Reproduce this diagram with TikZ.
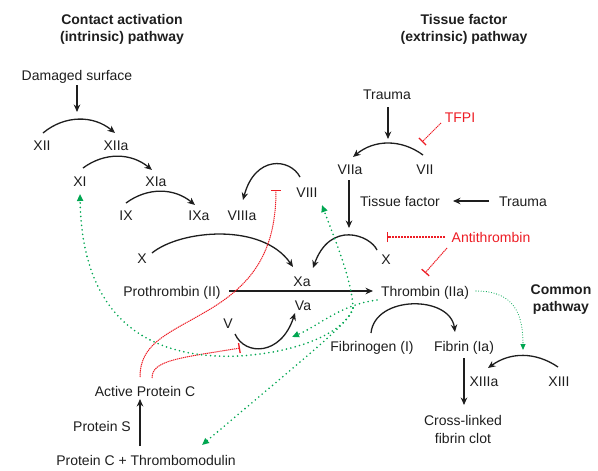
\documentclass[tikz,border=0pt]{standalone}
\usepackage{fontspec}
\setmainfont{Liberation Sans}
\usetikzlibrary{arrows.meta}
\definecolor{ired}{RGB}{237,28,36}
\definecolor{agreen}{RGB}{0,166,81}
\definecolor{ink}{RGB}{30,30,30}
\begin{document}
\begin{tikzpicture}[x=1pt,y=-1pt,
  lbl/.style={font=\fontsize{14}{16}\selectfont, text=ink, inner sep=1pt, text height=10pt, text depth=0pt},
  lbltwo/.style={font=\fontsize{14}{18}\selectfont, text=ink, align=center, inner sep=0pt},
  ttl/.style={font=\fontsize{14}{17}\selectfont\bfseries, text=ink, align=center, inner sep=0pt},
  redlbl/.style={lbl, text=ired},
  arr/.style={ink, line width=1.3pt, -{Stealth[length=7.5pt,width=6.5pt]}},
  inh/.style={ired, line width=1pt, dash pattern=on 1.3pt off 0.7pt, -{Bar[width=10pt,line width=1.3pt]}},
  act/.style={agreen, line width=1.8pt, line cap=round, dash pattern=on 0pt off 4.5pt, -{Triangle[length=7pt,width=6pt]}},
  actfine/.style={agreen, line width=1.1pt, line cap=round, dash pattern=on 0pt off 2.6pt, -{Triangle[length=6pt,width=5pt]}},
]
\useasboundingbox (0,0) rectangle (598,471);

% titles
\node[ttl] (t1) at (122,29) {Contact activation\\(intrinsic) pathway};
\node[ttl] (t2) at (464,29) {Tissue factor\\(extrinsic) pathway};
\node[ttl] (t3) at (561,300) {Common\\pathway};

% intrinsic
\node[lbl] (dmg) at (77,75) {Damaged surface};
\node[lbl] (xii) at (42,145) {XII};
\node[lbl] (xiia) at (116,145) {XIIa};
\node[lbl] (xi) at (80,181) {XI};
\node[lbl] (xia) at (156,181) {XIa};
\node[lbl] (ix) at (126,215) {IX};
\node[lbl] (ixa) at (199,215) {IXa};
\node[lbl] (viiia) at (242,215) {VIIIa};
\node[lbl] (viii) at (307,192) {VIII};
\node[lbl] (xone) at (142,258) {X};
\node[lbl] (xa) at (302,281) {Xa};
\node[lbl] (va) at (303,305) {Va};
\node[lbl] (v) at (228,323) {V};
\node[lbl] (pro) at (172,291) {Prothrombin (II)};
\node[lbl] (thr) at (425,291) {Thrombin (IIa)};

% extrinsic
\node[lbl] (trone) at (387,94) {Trauma};
\node[lbl] (vii) at (425,169) {VII};
\node[lbl] (viia) at (350,169) {VIIa};
\node[redlbl] (tfpi) at (460,117) {TFPI};
\node[lbl] (tf) at (400,201) {Tissue factor};
\node[lbl] (trtwo) at (523,201) {Trauma};
\node[lbl] (xtwo) at (386,259) {X};
\node[redlbl] (anti) at (491,237) {Antithrombin};

% common
\node[lbl] (fgn) at (372,346) {Fibrinogen (I)};
\node[lbl] (fib) at (464,346) {Fibrin (Ia)};
\node[lbl] (xiiia) at (484,381) {XIIIa};
\node[lbl] (xiii) at (559,381) {XIII};
\node[lbltwo] (clot) at (463,429) {Cross-linked\\fibrin clot};

% protein C
\node[lbl] (apc) at (145,391) {Active Protein C};
\node[lbl] (ps) at (102,426) {Protein S};
\node[lbl] (pct) at (146,460) {Protein C + Thrombomodulin};

% free ends
\coordinate (cdmg) at (77,112);
\coordinate (ctr) at (388,139);
\coordinate (cviia) at (349,228);
\coordinate (ctfpi) at (422,142);
\coordinate (cantia) at (387,237);
\coordinate (cantib) at (425,273);
\coordinate (capca) at (276,190);
\coordinate (capcb) at (240,348);
\coordinate (J) at (353,308);

% black arrows
\draw[arr] ([shift={(0,10)}]dmg.center) -- (cdmg);
\draw[arr] ([shift={(1,-12)}]xii.center) to[bend left=40] ([shift={(-1,-12)}]xiia.center);
\draw[arr] ([shift={(3,-13)}]xi.center) to[bend left=38] ([shift={(-4,-11)}]xia.center);
\draw[arr] ([shift={(0,-12)}]ix.center) to[bend left=38] ([shift={(-4,-10)}]ixa.center);
\draw[arr] ([shift={(-7,-15)}]viii.center) .. controls (290,158) and (255,155) .. ([shift={(1,-15)}]viiia.center);
\draw[arr] ([shift={(-9,-9)}]xtwo.center) .. controls (370,235) and (330,220) .. ([shift={(11,-13)}]xa.center);
\draw[arr] ([shift={(10,-5)}]xone.center) .. controls (180,230) and (262,222) .. ([shift={(-9,-14)}]xa.center);
\draw[arr] ([shift={(7,11)}]v.center) .. controls (245,356) and (281,356) .. ([shift={(-8,8)}]va.center);
\draw[arr] ([shift={(57,0)}]pro.center) -- ([shift={(-52,0)}]thr.center);
\draw[arr] ([shift={(1,13)}]trone.center) -- (ctr);
\draw[arr] ([shift={(-2,-14)}]vii.center) to[bend right=38] ([shift={(3,-12)}]viia.center);
\draw[arr] ([shift={(-34,0)}]trtwo.center) -- ([shift={(53,0)}]tf.center);
\draw[arr] ([shift={(-1,11)}]viia.center) -- (cviia);
\draw[arr] ([shift={(-1,-13)}]fgn.center) .. controls (375,295) and (450,295) .. ([shift={(-9,-14)}]fib.center);
\draw[arr] ([shift={(0,12)}]fib.center) -- ([shift={(1,-24)}]clot.center);
\draw[arr] ([shift={(-1,-14)}]xiii.center) to[bend right=35] ([shift={(4,-13)}]xiiia.center);
\draw[arr] ([shift={(-6,-14)}]pct.center) -- ([shift={(-5,8)}]apc.center);

% red inhibitions
\draw[inh] ([shift={(-19,6)}]tfpi.center) -- (ctfpi);
\draw[inh, line width=1.2pt, dash pattern=on 2pt off 1pt] ([shift={(-46,0)}]anti.center) -- (cantia);
\draw[inh] ([shift={(-44,11)}]anti.center) -- (cantib);
\draw[inh] ([shift={(-5,-14)}]apc.center) .. controls (140,345) and (165,335) .. (200,315) .. controls (245,290) and (276,260) .. (capca);
\draw[inh] ([shift={(7,-13)}]apc.center) .. controls (152,360) and (180,358) .. (capcb);

% green activations from thrombin
\draw[act] (J) .. controls (352,280) and (335,240) .. ([shift={(15,13)}]viii.center);
\draw[act] (J) .. controls (352,320) and (320,345) .. ([shift={(56,-15)}]pct.center);
\draw[act] (J) .. controls (345,332) and (300,352) .. (240,356) .. controls (150,360) and (82,320) .. ([shift={(0,13)}]xi.center);
\draw[act] ([shift={(-48,9)}]thr.center) .. controls (340,305) and (320,325) .. ([shift={(-11,32)}]va.center);
\draw[actfine] ([shift={(51,0)}]thr.center) .. controls (515,291) and (523,315) .. ([shift={(-36,-31)}]xiii.center);
\end{tikzpicture}
\end{document}
